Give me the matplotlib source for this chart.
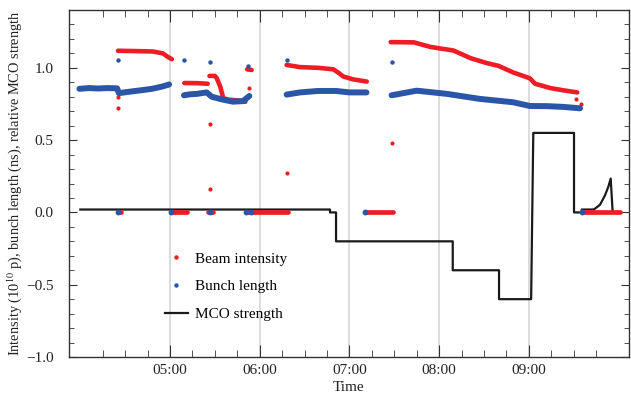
import numpy as np
import matplotlib
matplotlib.use('Agg')
import matplotlib.pyplot as plt
from matplotlib.lines import Line2D
from matplotlib.ticker import FixedLocator, FuncFormatter

plt.rcParams['font.family'] = ['Liberation Serif', 'DejaVu Serif']
plt.rcParams['mathtext.fontset'] = 'stix'

RED = '#ee1c25'
BLUE = '#2b56a8'

# time in hours of day, None splits the runs
intensity_t = [4.42, 4.6, 4.81, 4.92, 4.98, 5.02, None,
               5.16, 5.3, 5.42, None,
               5.44, 5.5, 5.52, 5.56, 5.594, 5.65, 5.75, 5.84, None,
               5.86, 5.91, None,
               6.30, 6.45, 6.65, 6.82, 6.876, 6.932, 7.043, 7.193, None,
               7.46, 7.72, 7.9, 8.0, 8.16, 8.35, 8.53, 8.66, 8.83, 9.01,
               9.07, 9.24, 9.38, 9.54]
intensity_v = [1.118, 1.116, 1.113, 1.10, 1.074, 1.06, None,
               0.895, 0.894, 0.89, None,
               0.944, 0.944, 0.93, 0.87, 0.79, 0.78, 0.775, 0.765, None,
               0.99, 0.985, None,
               1.02, 1.005, 1.0, 0.99, 0.967, 0.94, 0.92, 0.905, None,
               1.178, 1.176, 1.145, 1.135, 1.12, 1.067, 1.033, 1.014, 0.967, 0.928,
               0.89, 0.86, 0.845, 0.83]

bunch_t = [3.99, 4.1, 4.2, 4.3, 4.41, 4.43, 4.55, 4.68, 4.8, 4.91, 4.99, None,
           5.156, 5.223, 5.3, 5.409, 5.465, 5.591, 5.702, 5.814, 5.884, None,
           6.30, 6.45, 6.65, 6.85, 7.0, 7.19, None,
           7.47, 7.75, 8.085, 8.456, 8.824, 9.013, 9.2, 9.381, 9.571]
bunch_v = [0.855, 0.86, 0.857, 0.86, 0.858, 0.825, 0.835, 0.845, 0.855, 0.87, 0.885, None,
           0.81, 0.817, 0.82, 0.83, 0.80, 0.78, 0.766, 0.77, 0.805, None,
           0.815, 0.83, 0.84, 0.84, 0.83, 0.83, None,
           0.81, 0.842, 0.82, 0.785, 0.762, 0.736, 0.735, 0.73, 0.72]

# isolated readings
intensity_out_t = [4.42, 4.42, 5.45, 5.45, 5.88, 6.30, 7.47, 9.53, 9.58]
intensity_out_v = [0.80, 0.72, 0.61, 0.165, 0.86, 0.27, 0.48, 0.785, 0.75]
bunch_out_t = [4.42, 5.156, 5.45, 5.87, 6.30, 7.47]
bunch_out_v = [1.055, 1.055, 1.04, 1.016, 1.055, 1.037]

# periods where the intensity reads zero
zero_start = [4.417, 5.008, 5.427, 5.844, 7.174, 9.59]
zero_end = [4.45, 5.186, 5.476, 6.319, 7.486, 10.017]
bunch_zero_t = [4.417, 5.008, 5.446, 5.844, 5.90, 7.174, 9.59]

mco_t = [4.0, 6.784, 6.784, 6.851, 6.851, 8.152, 8.152, 8.668, 8.668, 9.026, 9.05,
         9.504, 9.504, 9.59, 9.59, 9.72, 9.738, 9.794, 9.849, 9.886, 9.913, 9.935]
mco_v = [0.02, 0.02, 0.0, 0.0, -0.2, -0.2, -0.4, -0.4, -0.6, -0.6, 0.55,
         0.55, 0.0, 0.0, 0.02, 0.02, 0.026, 0.053, 0.118, 0.176, 0.234, 0.0]


def arr(a):
    return np.array([np.nan if x is None else x for x in a], dtype=float)


fig = plt.figure(figsize=(6.31, 3.97), dpi=100)
ax = fig.add_axes([69 / 631, 40 / 397, 560 / 631, 347 / 397])

ax.plot(mco_t, mco_v, color='#1a1a1a', lw=1.6, zorder=2)

for s, e in zip(zero_start, zero_end):
    ax.plot([s, e], [0, 0], color=RED, lw=3.4, solid_capstyle='round', zorder=3)
ax.plot(bunch_zero_t, np.zeros(len(bunch_zero_t)), 'o', color=BLUE, ms=3.2, zorder=4)

ax.plot(arr(intensity_t), arr(intensity_v), color=RED, lw=3.3,
        solid_capstyle='round', zorder=3)
ax.plot(intensity_out_t, intensity_out_v, 'o', color=RED, ms=3, mew=0, zorder=3)

ax.plot(arr(bunch_t), arr(bunch_v), color=BLUE, lw=4.3,
        solid_capstyle='round', zorder=4)
ax.plot(bunch_out_t, bunch_out_v, 'o', color=BLUE, ms=3.2, mew=0, zorder=4)

ax.set_xlim(3.874, 10.117)
ax.set_ylim(-1.0, 1.4)

ax.xaxis.set_major_locator(FixedLocator([5, 6, 7, 8, 9]))
ax.xaxis.set_minor_locator(FixedLocator([h + q for h in range(4, 10) for q in (0.25, 0.5, 0.75)]))
ax.xaxis.set_major_formatter(FuncFormatter(lambda x, p: '%02d:00' % int(round(x))))
ax.yaxis.set_major_locator(FixedLocator([-1.0, -0.5, 0.0, 0.5, 1.0]))
ax.yaxis.set_minor_locator(FixedLocator(np.arange(-0.9, 1.35, 0.1)))
ax.yaxis.set_major_formatter(FuncFormatter(lambda y, p: ('%.1f' % y).replace('-', '\u2212')))

ax.grid(axis='x', which='major', color='#d9d9d9', lw=1.3, zorder=0)
ax.set_axisbelow(True)

ax.tick_params(which='both', direction='in', top=True, right=True, colors='#333333',
               labelsize=11, labelcolor='#222222')
ax.tick_params(axis='x', which='major', length=8.5, pad=5)
ax.tick_params(axis='x', which='minor', length=5)
ax.tick_params(axis='y', which='major', length=6, pad=11)
ax.tick_params(axis='y', which='minor', length=3.5)
for sp in ax.spines.values():
    sp.set_color('#333333')
    sp.set_linewidth(1.0)

ax.set_xlabel('Time', fontsize=11, color='#222222', labelpad=3)
ax.set_ylabel('Intensity (10$^{10}$ p), bunch length (ns), relative MCO strength',
              fontsize=10.4, color='#222222', labelpad=0)
ax.yaxis.set_label_coords(24 / 631, 1 - 183 / 397, transform=fig.transFigure)

handles = [Line2D([], [], ls='none', marker='o', ms=3.2, mew=0, color=RED, label='Beam intensity'),
           Line2D([], [], ls='none', marker='o', ms=3.2, mew=0, color=BLUE, label='Bunch length'),
           Line2D([], [], color='#1a1a1a', lw=1.6, label='MCO strength')]
ax.legend(handles=handles, loc='upper left', bbox_to_anchor=(165 / 631, 1 - 252 / 397),
          bbox_transform=fig.transFigure, frameon=False, fontsize=11,
          handlelength=1.5, handletextpad=0.45, labelspacing=0.92, borderpad=0,
          borderaxespad=0)

fig.savefig('out.png', dpi=100)
